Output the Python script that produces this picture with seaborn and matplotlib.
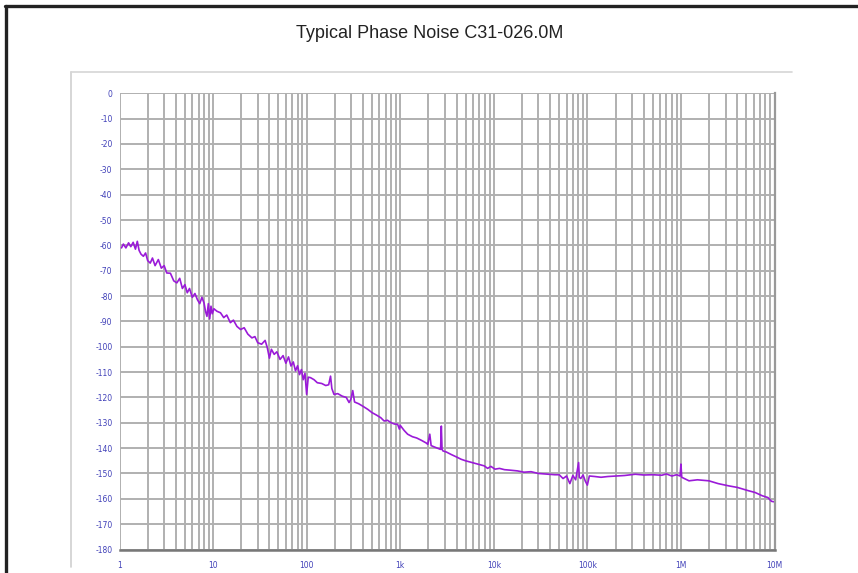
import numpy as np
import pandas as pd
import matplotlib
matplotlib.use('Agg')
import matplotlib.pyplot as plt
from matplotlib.lines import Line2D
from matplotlib.ticker import FixedLocator, LogLocator, NullFormatter
import seaborn as sns

sns.set_theme(style='whitegrid')
plt.rcParams['font.family'] = ['Liberation Sans', 'DejaVu Sans']

# offset frequency (Hz) and phase noise (dBc/Hz)
freq_hz = [
    1.05, 1.1, 1.17, 1.25, 1.32, 1.4, 1.48, 1.55, 1.62, 1.7,
    1.8, 1.9, 2.0, 2.13, 2.25, 2.4, 2.6, 2.8, 3.0, 3.2,
    3.5, 3.8, 4.1, 4.4, 4.7, 5.0, 5.3, 5.6, 6.0, 6.4,
    6.8, 7.2, 7.6, 8.0, 8.3, 8.6, 8.9, 9.2, 9.5, 9.8,
    10.2, 11, 12, 13, 14, 15.3, 16.5, 18, 19.7, 21.5,
    23.5, 26, 28, 30, 33, 36, 38, 40, 42, 45,
    48, 52, 56, 60, 64, 68, 72, 76, 80, 84,
    88, 92, 96, 100, 104, 110, 120, 130, 145, 160,
    172, 180, 186, 196, 215, 240, 265, 284, 297, 311,
    325, 360, 400, 450, 500, 560, 620, 673, 730, 800,
    870, 938, 980, 1000, 1100, 1200, 1350, 1500, 1700, 1900,
    1970, 2070, 2140, 2300, 2500, 2700, 2750, 2800, 2860, 3100,
    3500, 4000, 4480, 5000, 5600, 6300, 7000, 7900, 8600, 9300,
    10300, 11500, 13000, 15000, 18000, 21000, 25000, 30000, 37900, 45000,
    50000, 55000, 60000, 65000, 70000, 75000, 80600, 82000, 85000, 90000,
    95000, 100000, 105000, 120000, 140000, 166000, 200000, 250000, 325000, 400000,
    500000, 623000, 700000, 800000, 900000, 980000, 1000000, 1020000, 1220000, 1500000,
    1990000, 2500000, 3250000, 4000000, 5260000, 6200000, 7400000, 8500000, 9300000, 10000000,
]
noise_dbc = [
    -61, -59.5, -61, -59, -60.5, -58.8, -61.5, -58.4, -62, -63.5,
    -64.3, -63, -66, -67, -65, -68, -65.6, -69, -68, -70.9,
    -71, -74, -74.8, -73, -77, -75.5, -78.7, -77, -80.5, -79,
    -81.4, -83, -80.5, -82.7, -86, -88, -83, -89, -84, -87,
    -85, -86, -86.6, -88.5, -87.5, -90.5, -89.5, -92, -93.2, -92.5,
    -95, -96.5, -96, -98.4, -99, -97.5, -100.4, -104.5, -101, -103,
    -102, -105, -103.5, -106.5, -104, -107.6, -106, -109.5, -107.5, -111,
    -109, -113, -110.5, -118.8, -112, -112.2, -113, -114.2, -114.5, -115.3,
    -115, -111.6, -116.5, -118.8, -118.5, -119.5, -120, -122, -120.7, -117.3,
    -121.8, -122.5, -123.5, -124.7, -126, -127, -128, -129.3, -129, -130,
    -130.5, -130.6, -132.5, -131, -133, -134.5, -135.5, -136, -137, -138,
    -138.5, -134.5, -139, -139.5, -140, -140.5, -131.3, -140.5, -141.1, -141.5,
    -142.5, -143.5, -144.4, -145, -145.5, -146, -146.5, -147, -148, -147.2,
    -148.3, -148, -148.5, -148.7, -149, -149.5, -149.3, -150, -150.3, -150.5,
    -150.5, -152, -151, -154, -150.8, -152.5, -145.7, -151.5, -152, -150.6,
    -153, -154.6, -151, -151.2, -151.5, -151.2, -151, -150.8, -150.3, -150.6,
    -150.5, -150.7, -150.2, -151, -150.5, -151, -146.3, -151.5, -152.9, -152.5,
    -152.9, -154, -154.9, -155.5, -156.8, -157.5, -158.8, -159.5, -161, -161.2,
]

x_ticks = [1, 10, 100, 1e3, 1e4, 1e5, 1e6, 1e7]
x_labels = ['1', '10', '100', '1k', '10k', '100k', '1M', '10M']
y_ticks = list(range(0, -190, -10))

df = pd.DataFrame({'freq': freq_hz, 'dbc': noise_dbc})

W, H = 858, 573
fig = plt.figure(figsize=(W / 100, H / 100), dpi=100)
fig.patch.set_facecolor('white')

# plot area in pixel coords of the reference
left, right, top, bottom = 119.5, 774.5, 93.3, 549.5
ax = fig.add_axes([left / W, 1 - bottom / H, (right - left) / W, (bottom - top) / H])
ax.set_facecolor('white')

sns.lineplot(data=df, x='freq', y='dbc', ax=ax, estimator=None, sort=False,
             color='#9a1ad8', linewidth=1.2)

ax.set_xscale('log')
ax.set_xlim(1, 1e7)
ax.set_ylim(-180, 0)
ax.set_xlabel('')
ax.set_ylabel('')

ax.xaxis.set_major_locator(FixedLocator(x_ticks))
ax.set_xticklabels(x_labels)
ax.xaxis.set_minor_locator(LogLocator(base=10, subs=np.arange(2, 10), numticks=20))
ax.xaxis.set_minor_formatter(NullFormatter())
ax.set_yticks(y_ticks)
ax.set_yticklabels([str(v) for v in y_ticks])

grid_color = '#b0b0b0'
ax.grid(which='major', axis='both', color=grid_color, linewidth=1.4)
ax.grid(which='minor', axis='x', color=grid_color, linewidth=1.4)

ax.tick_params(axis='y', which='major', length=3, width=0.8, color=grid_color,
               labelsize=5.5, labelcolor='#4040b8', pad=2)
ax.tick_params(axis='x', which='major', length=0, labelsize=5.5,
               labelcolor='#4040b8', pad=8)
ax.tick_params(axis='x', which='minor', length=0)
for lab in ax.get_xticklabels() + ax.get_yticklabels():
    lab.set_family('DejaVu Sans')

for side in ['top', 'left']:
    ax.spines[side].set_visible(False)
ax.spines['right'].set_color('#999999')
ax.spines['right'].set_linewidth(1.6)
ax.spines['bottom'].set_color('#777777')
ax.spines['bottom'].set_linewidth(1.8)

# inner panel frame (light gray) and outer black frame
fig.add_artist(Line2D([70.5 / W, 70.5 / W], [1 - 567 / H, 1 - 72 / H],
                      color='#cfcfcf', linewidth=1.2, transform=fig.transFigure))
fig.add_artist(Line2D([70.5 / W, 792 / W], [1 - 72 / H, 1 - 72 / H],
                      color='#d6d6d6', linewidth=1.2, transform=fig.transFigure))
fig.add_artist(Line2D([5.5 / W, 5.5 / W], [0, 1 - 6 / H],
                      color='#222222', linewidth=2.4, transform=fig.transFigure))
fig.add_artist(Line2D([4.5 / W, 1], [1 - 6 / H, 1 - 6 / H],
                      color='#222222', linewidth=2.4, transform=fig.transFigure))

fig.text(430 / W, 1 - 34 / H, 'Typical Phase Noise C31-026.0M', ha='center', va='center',
         fontsize=13, color='#222222')

fig.savefig('out.png', dpi=100)
